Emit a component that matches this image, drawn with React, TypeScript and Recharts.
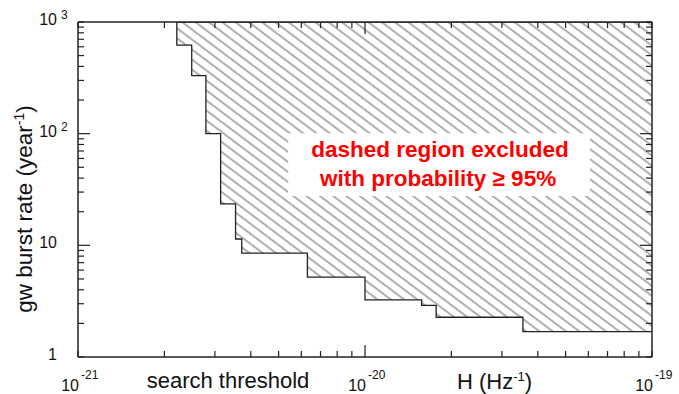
import React from "react"
import { AreaChart, Area, XAxis, YAxis, ReferenceArea } from "recharts"

// step boundary of the excluded region (upper limit on burst rate vs H)
const hEdges = [2.21e-21, 2.21e-21, 2.49e-21, 2.79e-21, 3.14e-21, 3.54e-21, 3.72e-21, 6.3e-21, 1e-20, 1.575e-20, 1.77e-20, 3.55e-20, 1e-19]
const rateLimit = [1000, 622, 331, 100, 23.5, 11.4, 8.5, 5.2, 3.25, 2.9, 2.27, 1.69, 1.69]
const rateTop = 1000

const xDecades = [-21, -20, -19]
const yDecades = [0, 1, 2, 3]
const mantissas = [1, 2, 3, 4, 5, 6, 7, 8, 9]

const noteLines = ["dashed region excluded", "with probability \u2265 95%"]
const noteBoxH = [5.4e-21, 6.08e-20]
const noteBoxRate = [27.7, 101]

const data = hEdges.map((h, i) => ({ h, band: [rateLimit[i], rateTop] }))

const buildTicks = (decades: number[]) => {
  const out: number[] = []
  decades.forEach((e, i) => {
    if (i === decades.length - 1) out.push(Math.pow(10, e))
    else mantissas.forEach((m) => out.push(m * Math.pow(10, e)))
  })
  return out
}
const xTicks = buildTicks(xDecades)
const yTicks = buildTicks(yDecades)

const FONT = "'Liberation Sans', Arial, Helvetica, sans-serif"
const INK = "#222"

const isMajor = (v: number) => {
  const l = Math.log10(v)
  return Math.abs(l - Math.round(l)) < 1e-6
}

const XTick = (props: any) => {
  const { x, y, payload, top } = props
  const v = payload.value
  const major = isMajor(v)
  const len = major && v !== 1e-21 && v !== 1e-19 ? 12 : 6
  const dir = top ? 1 : -1
  const exp = Math.round(Math.log10(v))
  return (
    <g>
      <line x1={x} x2={x} y1={y} y2={y + dir * len} stroke={INK} strokeWidth={1.2} />
      {!top && major && (
        <g fontFamily={FONT} fill="#111">
          <text x={x + 1} y={y + 34} textAnchor="end" fontSize={16}>10</text>
          <text x={x + 3} y={y + 22} textAnchor="start" fontSize={12}>{exp}</text>
        </g>
      )}
    </g>
  )
}

const YTick = (props: any) => {
  const { x, y, payload, right } = props
  const v = payload.value
  const major = isMajor(v)
  const len = major && v !== 1 && v !== 1000 ? 12 : 6
  const dir = right ? -1 : 1
  const exp = Math.round(Math.log10(v))
  return (
    <g>
      <line x1={x} x2={x + dir * len} y1={y} y2={y} stroke={INK} strokeWidth={1.2} />
      {!right && major && (
        <g fontFamily={FONT} fill="#111">
          <text x={57} y={y + 3} textAnchor="end" fontSize={16}>{exp < 2 ? String(v) : "10"}</text>
          {exp >= 2 && (
            <text x={61} y={y - 3} textAnchor="start" fontSize={12}>{exp}</text>
          )}
        </g>
      )}
    </g>
  )
}

const NoteLabel = (props: any) => {
  const { viewBox } = props
  const cx = viewBox.x + viewBox.width / 2
  const cy = viewBox.y + viewBox.height / 2
  return (
    <g fontFamily={FONT} fontWeight="bold" fontSize={22.5} fill="#ff0000" textAnchor="middle">
      <text x={cx + 1} y={cy - 8}>{noteLines[0]}</text>
      <text x={cx - 1} y={cy + 21}>{noteLines[1]}</text>
    </g>
  )
}

const axisLine = { stroke: INK, strokeWidth: 1.5 }

export default function App() {
  return (
    <div style={{ position: "absolute", left: 0, top: 0, width: 679, height: 394, background: "#fff" }}>
      <AreaChart width={679} height={394} data={data} margin={{ top: 21, right: 26, bottom: 36, left: 77 }}>
        <defs>
          <pattern id="hatch" width="8" height="8" patternUnits="userSpaceOnUse" patternTransform="rotate(37)">
            <line x1="0" y1="4" x2="8" y2="4" stroke="#7a7a7a" strokeWidth="1.2" />
          </pattern>
        </defs>
        <XAxis
          dataKey="h"
          type="number"
          scale="log"
          domain={[1e-21, 1e-19]}
          allowDataOverflow
          ticks={xTicks}
          interval={0}
          height={1}
          tickLine={false}
          tickSize={0}
          tickMargin={0}
          axisLine={axisLine}
          tick={<XTick />}
        />
        <XAxis
          xAxisId="top"
          orientation="top"
          dataKey="h"
          type="number"
          scale="log"
          domain={[1e-21, 1e-19]}
          allowDataOverflow
          ticks={xTicks}
          interval={0}
          height={1}
          tickLine={false}
          tickSize={0}
          tickMargin={0}
          axisLine={axisLine}
          tick={<XTick top />}
        />
        <YAxis
          type="number"
          scale="log"
          domain={[1, 1000]}
          allowDataOverflow
          ticks={yTicks}
          interval={0}
          width={1}
          tickLine={false}
          tickSize={0}
          tickMargin={0}
          axisLine={axisLine}
          tick={<YTick />}
        />
        <YAxis
          yAxisId="right"
          orientation="right"
          type="number"
          scale="log"
          domain={[1, 1000]}
          allowDataOverflow
          ticks={yTicks}
          interval={0}
          width={1}
          tickLine={false}
          tickSize={0}
          tickMargin={0}
          axisLine={axisLine}
          tick={<YTick right />}
        />
        <Area
          type="stepAfter"
          dataKey="band"
          stroke={INK}
          strokeWidth={1.3}
          fill="url(#hatch)"
          fillOpacity={1}
          isAnimationActive={false}
          dot={false}
          activeDot={false}
        />
        <ReferenceArea
          x1={noteBoxH[0]}
          x2={noteBoxH[1]}
          y1={noteBoxRate[0]}
          y2={noteBoxRate[1]}
          fill="#fff"
          fillOpacity={1}
          stroke="none"
          label={<NoteLabel />}
        />
        <text x={228} y={388} textAnchor="middle" fontFamily={FONT} fontSize={22} fill="#111">search threshold</text>
        <text x={457} y={389} fontFamily={FONT} fontSize={22} fill="#111">
          H (Hz<tspan fontSize={13} dy={-8}>-1</tspan><tspan dy={8}>)</tspan>
        </text>
        <text
          x={32}
          y={209}
          transform="rotate(-90 32 209)"
          textAnchor="middle"
          fontFamily={FONT}
          fontSize={22.5}
          fill="#111"
        >
          gw burst rate (year<tspan fontSize={14} dy={-8}>-1</tspan><tspan dy={8}>)</tspan>
        </text>
      </AreaChart>
    </div>
  )
}
